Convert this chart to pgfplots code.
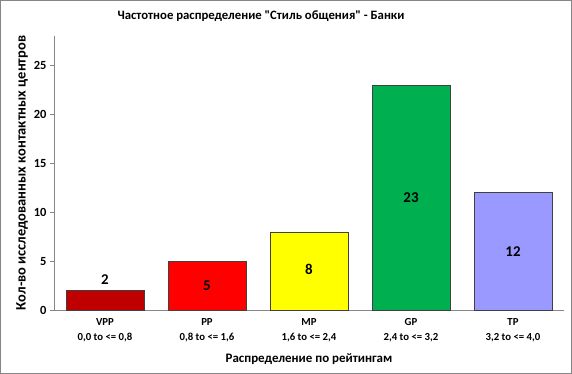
\documentclass[border=0pt]{standalone}
\usepackage{pgfplots}
\pgfplotsset{compat=1.18}
\usepackage{fontspec}
\setmainfont{Carlito}[Ligatures=TeXOff]
\definecolor{axgray}{RGB}{134,134,134}
\definecolor{cVPP}{RGB}{192,0,0}
\definecolor{cPP}{RGB}{255,0,0}
\definecolor{cMP}{RGB}{255,255,0}
\definecolor{cGP}{RGB}{0,176,80}
\definecolor{cTP}{RGB}{153,153,255}
\begin{document}
\begin{tikzpicture}
\useasboundingbox (0,0) rectangle (572bp,374bp);
\draw[axgray, line width=1.2bp] (0.6bp,0.6bp) rectangle (571.4bp,373.4bp);
\node[font=\bfseries\fontsize{12.8}{15}\selectfont] at (261bp,358bp) {Частотное распределение "Стиль общения" - Банки};
\begin{axis}[
  at={(54bp,64bp)}, anchor=south west,
  scale only axis, width=510bp, height=274bp,
  xmin=-0.5, xmax=4.5, ymin=0, ymax=28,
  axis x line*=bottom, axis y line*=left,
  axis line style={axgray, line width=0.8bp},
  every axis plot/.append style={bar shift=0pt},
  ytick={0,5,10,15,20,25},
  xtick={0,1,2,3,4},
  xticklabels={{VPP\\0,0 to <= 0,8},{PP\\0,8 to <= 1,6},{MP\\1,6 to <= 2,4},{GP\\2,4 to <= 3,2},{TP\\3,2 to <= 4,0}},
  xticklabel style={align=center, font=\bfseries\fontsize{10.8}{15}\selectfont, yshift=-1bp},
  yticklabel style={font=\bfseries\fontsize{12.5}{14}\selectfont},
  /pgf/number format/assume math mode=true,
  major x tick style={draw=none},
  ytick style={axgray, line width=0.8bp},
  tick align=outside, major tick length=4bp,
  extra x ticks={-0.5,0.5,1.5,2.5,3.5,4.5},
  extra x tick labels={},
  extra x tick style={major tick style={draw=axgray, line width=0.8bp}, major tick length=4bp},
  xlabel={Распределение по рейтингам},
  xlabel style={font=\bfseries\fontsize{13}{15}\selectfont, yshift=3bp},
  ylabel={Кол-во исследованных контактных центров},
  ylabel style={font=\bfseries\fontsize{14.5}{16}\selectfont, yshift=-1bp},
  clip=false,
]
\addplot[ybar, bar width=78bp, fill=cVPP, draw=black!75] coordinates {(0,2)};
\addplot[ybar, bar width=78bp, fill=cPP, draw=black!75] coordinates {(1,5)};
\addplot[ybar, bar width=78bp, fill=cMP, draw=black!75] coordinates {(2,8)};
\addplot[ybar, bar width=78bp, fill=cGP, draw=black!75] coordinates {(3,23)};
\addplot[ybar, bar width=78bp, fill=cTP, draw=black!75] coordinates {(4,12)};
\addplot[only marks, mark=none, point meta=explicit symbolic,
  nodes near coords, nodes near coords align={center},
  every node near coord/.append style={font=\bfseries\fontsize{15}{17}\selectfont}]
  coordinates {(0,3.06)[2] (1,2.45)[5] (2,4.1)[8] (3,11.5)[23] (4,6.0)[12]};
\end{axis}
\end{tikzpicture}
\end{document}
